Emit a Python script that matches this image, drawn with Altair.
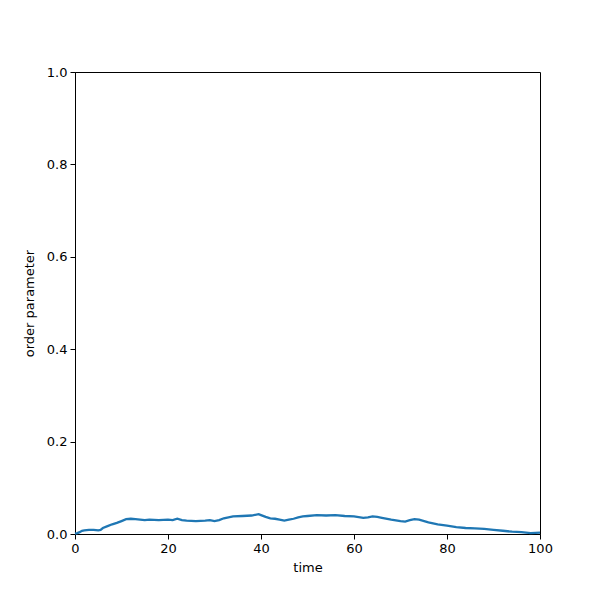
import altair as alt
import pandas as pd

time = [0, 0.5, 1, 1.5, 2, 3, 4, 5, 5.5, 6, 7, 8, 9, 10, 11, 12, 13, 14, 15, 16,
        18, 20, 21, 22, 23, 24, 26, 28, 29, 30, 31, 32, 33, 34, 36, 38, 39.5, 40,
        41, 42, 43, 44, 45, 46, 47, 48, 49, 50, 52, 54, 56, 58, 60, 62, 63, 64,
        65, 66, 68, 70, 71, 72, 73, 74, 76, 78, 80, 82, 84, 86, 88, 90, 92, 94,
        96, 98, 100]
order = [0.001, 0.002, 0.004, 0.007, 0.008, 0.009, 0.009, 0.008, 0.009, 0.013,
         0.017, 0.021, 0.024, 0.028, 0.032, 0.033, 0.032, 0.031, 0.030, 0.031,
         0.030, 0.031, 0.030, 0.033, 0.030, 0.029, 0.028, 0.029, 0.030, 0.028,
         0.030, 0.034, 0.036, 0.038, 0.039, 0.040, 0.043, 0.041, 0.037, 0.034,
         0.033, 0.031, 0.029, 0.031, 0.033, 0.036, 0.038, 0.039, 0.041, 0.040,
         0.041, 0.039, 0.038, 0.035, 0.036, 0.038, 0.037, 0.035, 0.031, 0.028,
         0.027, 0.030, 0.032, 0.031, 0.025, 0.021, 0.018, 0.015, 0.013, 0.012,
         0.011, 0.009, 0.007, 0.005, 0.004, 0.002, 0.003]

df = pd.DataFrame({"time": time, "order": order})

chart = alt.Chart(df).mark_line(color="#1f77b4", strokeWidth=2.3).encode(
    x=alt.X("time:Q", title="time",
            scale=alt.Scale(domain=[0, 100], nice=False, zero=False),
            axis=alt.Axis(values=[0, 20, 40, 60, 80, 100], grid=False,
                          labelFlush=False, titlePadding=6)),
    y=alt.Y("order:Q", title="order parameter",
            scale=alt.Scale(domain=[0, 1], nice=False),
            axis=alt.Axis(values=[0, 0.2, 0.4, 0.6, 0.8, 1.0], format=".1f",
                          grid=False, labelFlush=False, titlePadding=10)),
).properties(
    width=465, height=462,
    autosize=alt.AutoSizeParams(type="none"),
    padding={"left": 67, "top": 64, "right": 52, "bottom": 58},
).configure_view(
    stroke="black", strokeWidth=1
).configure_axis(
    domainColor="black", tickColor="black", labelColor="black", titleColor="black",
    labelFont="DejaVu Sans", titleFont="DejaVu Sans",
    labelFontSize=13, titleFontSize=13, titleFontWeight="normal",
    tickSize=5, labelPadding=3, domainWidth=1, tickWidth=1,
)

chart.save("out.html", embed_options={"renderer": "svg", "actions": False})
